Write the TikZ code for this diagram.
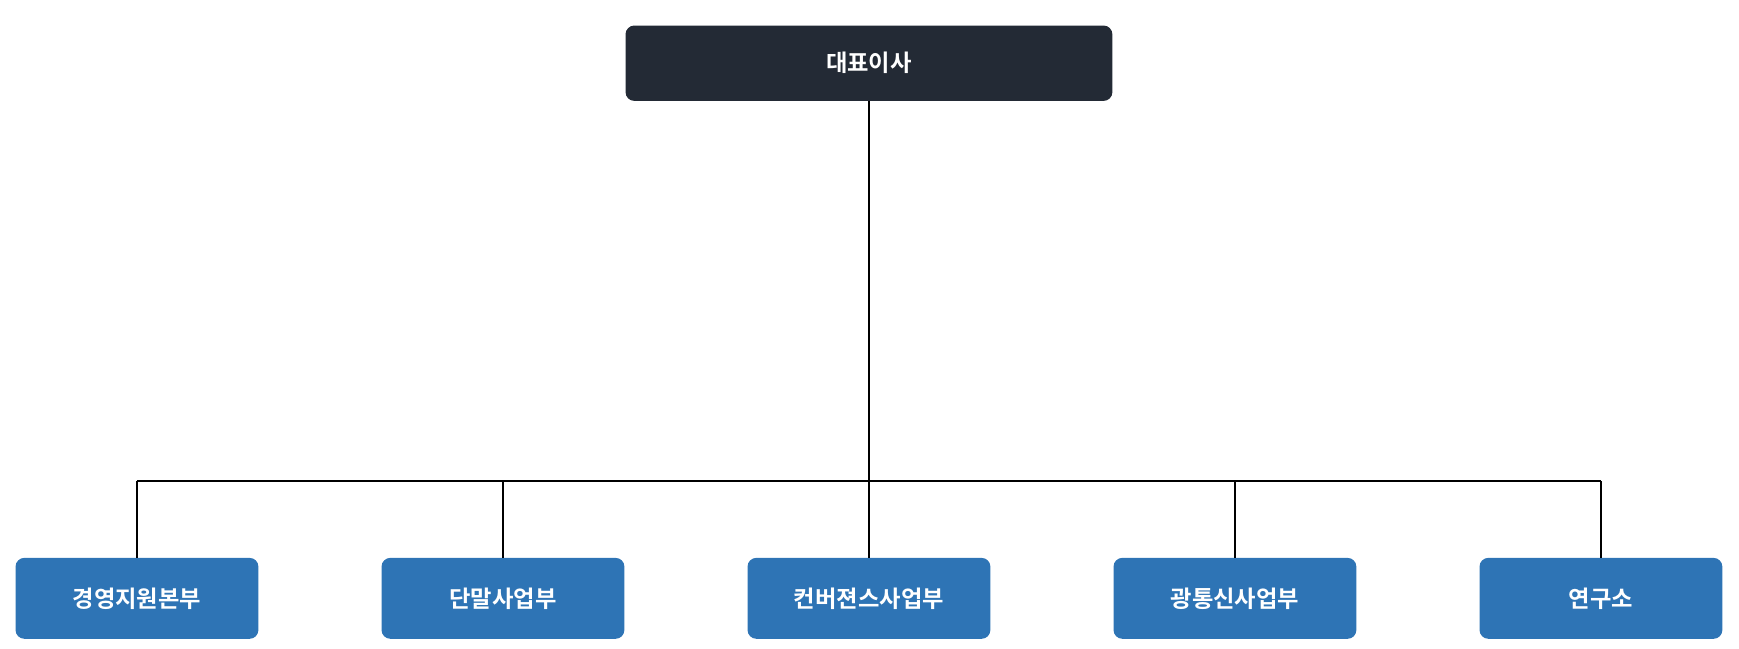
\documentclass[tikz,border=0pt]{standalone}
\usepackage{fontspec}
\newfontfamily\kr{Noto Sans CJK KR}[BoldFont={* Bold}]
\definecolor{topc}{HTML}{232A35}
\definecolor{boxc}{HTML}{2E74B5}
\begin{document}
\begin{tikzpicture}[x=1pt,y=-1pt,
  box/.style={draw=none,rounded corners=8pt,minimum width=219pt,minimum height=73pt,inner sep=0pt,font=\kr\bfseries\fontsize{21}{24}\selectfont,text=white},
  conn/.style={line width=2pt,black}]
\useasboundingbox (0,0) rectangle (1568,585);
\node[box,fill=topc,minimum width=439pt,minimum height=68pt] (ceo) at (783.5,57) {대표이사};
\node[box,fill=boxc] (a) at (123.5,539.5) {경영지원본부};
\node[box,fill=boxc] (b) at (453.5,539.5) {단말사업부};
\node[box,fill=boxc] (c) at (783.5,539.5) {컨버젼스사업부};
\node[box,fill=boxc] (d) at (1113.5,539.5) {광통신사업부};
\node[box,fill=boxc] (e) at (1443.5,539.5) {연구소};
\coordinate (bus) at (783.5,434);
\draw[conn] (ceo.south) -- (bus);
\draw[conn] (a.north |- bus) -- (e.north |- bus);
\foreach \n in {a,b,c,d,e} \draw[conn] (\n.north |- bus) -- (\n.north);
\end{tikzpicture}
\end{document}
